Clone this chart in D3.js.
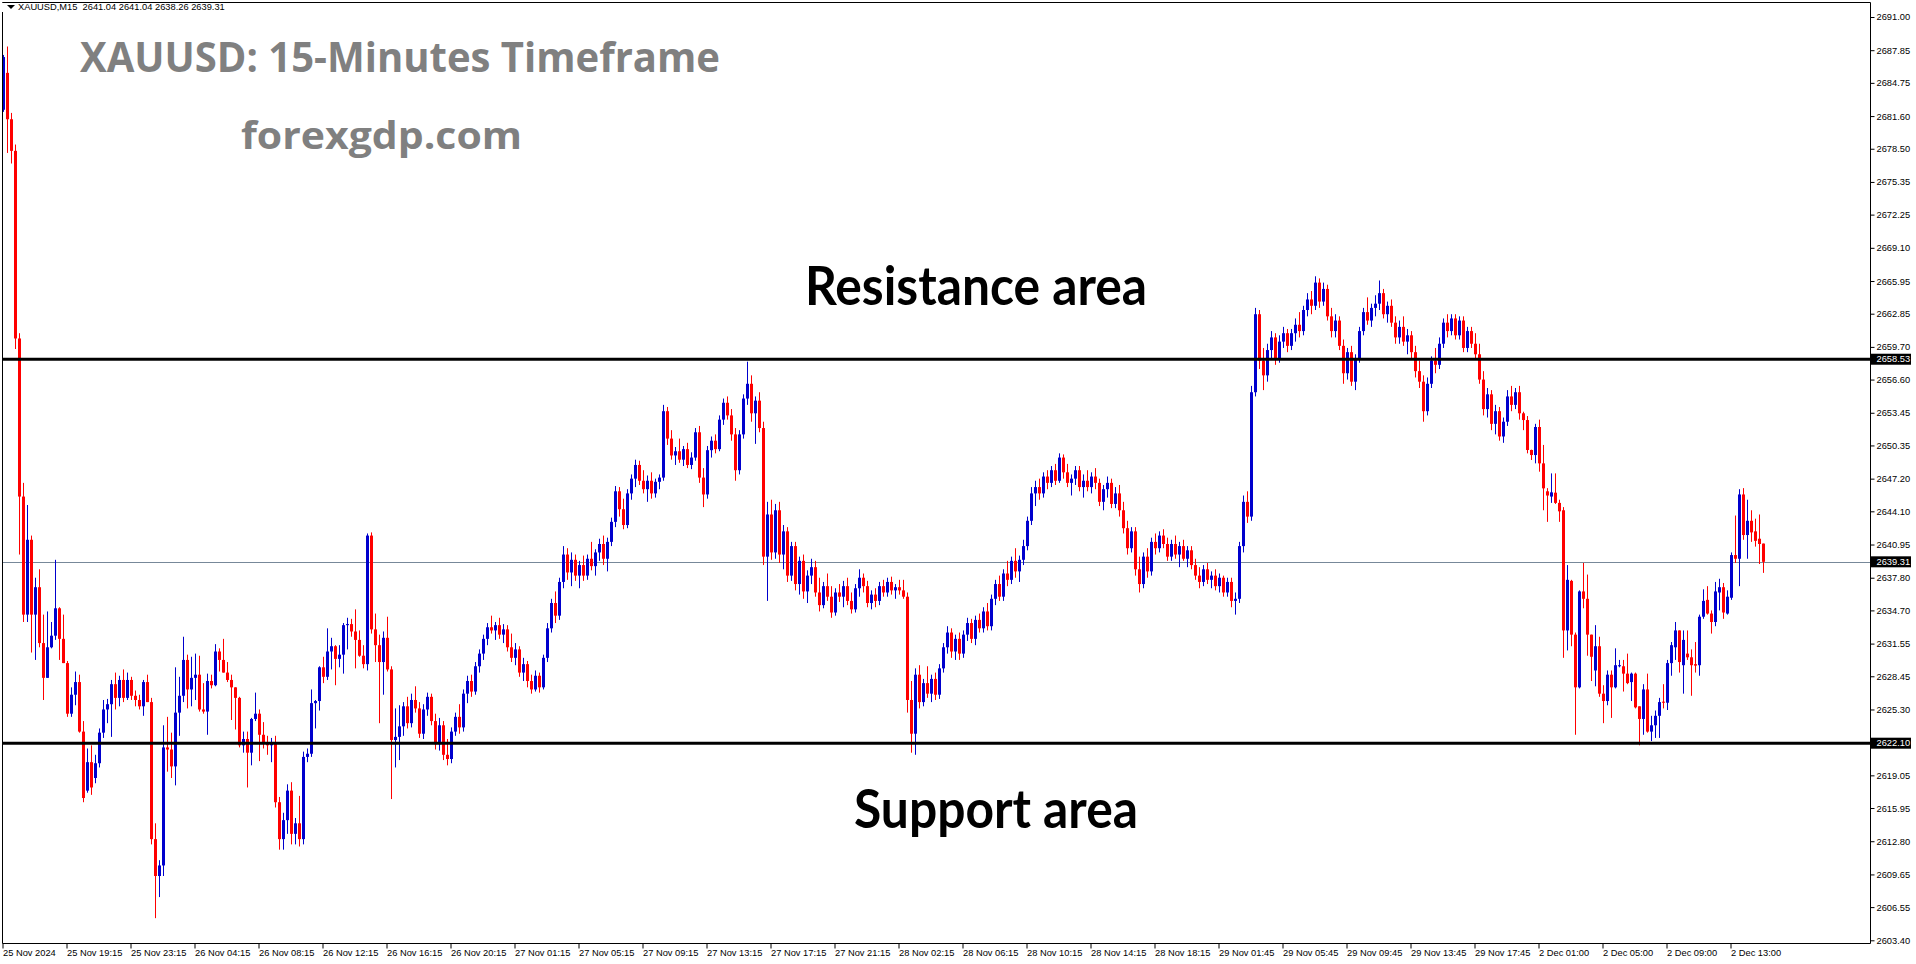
<!DOCTYPE html>
<html><head><meta charset="utf-8">
<script src="https://cdn.jsdelivr.net/npm/d3@7"></script>
<style>
body{margin:0;background:#fff;overflow:hidden}
svg{display:block}
.ax text{font-family:"Liberation Sans",Arial,sans-serif;font-size:9.3px;fill:#000}
</style>
</head><body>
<svg id="c" width="1916" height="964"></svg>
<script>
const symbol = "XAUUSD", timeframe = "M15";
const titleText = "XAUUSD: 15-Minutes Timeframe";
const siteText = "forexgdp.com";
const resistanceText = "Resistance area", supportText = "Support area";
const resistance = 2658.53, support = 2622.10, lastPrice = 2639.31;

const timeLabels = ["25 Nov 2024","25 Nov 19:15","25 Nov 23:15","26 Nov 04:15","26 Nov 08:15","26 Nov 12:15","26 Nov 16:15","26 Nov 20:15","27 Nov 01:15","27 Nov 05:15","27 Nov 09:15","27 Nov 13:15","27 Nov 17:15","27 Nov 21:15","28 Nov 02:15","28 Nov 06:15","28 Nov 10:15","28 Nov 14:15","28 Nov 18:15","29 Nov 01:45","29 Nov 05:45","29 Nov 09:45","29 Nov 13:45","29 Nov 17:45","2 Dec 01:00","2 Dec 05:00","2 Dec 09:00","2 Dec 13:00"];
const timeLabelBars = [0,16,32,48,64,80,96,112,128,144,160,176,192,208,224,240,256,272,288,304,320,336,352,368,384,400,416,432];
const priceTicks = [2691.00,2687.85,2684.75,2681.60,2678.50,2675.35,2672.25,2669.10,2665.95,2662.85,2659.70,2656.60,2653.45,2650.35,2647.20,2644.10,2640.95,2637.80,2634.70,2631.55,2628.45,2625.30,2619.05,2615.95,2612.80,2609.65,2606.55,2603.40];

const opens = [
2682.2,2685.7,2681.3,2678.3,2660.5,2645.5,2634.3,2641.4,2634.3,2636.9,
2631.6,2628.3,2631.2,2632.3,2634.9,2632.0,2629.7,2624.9,2626.7,2627.9,
2623.2,2617.6,2620.3,2618.8,2620.2,2623.1,2625.3,2625.8,2627.7,2626.4,
2628.1,2626.4,2628.1,2626.6,2626.2,2625.6,2627.9,2626.0,2613.0,2609.5,
2610.5,2621.7,2621.5,2619.9,2625.0,2626.6,2630.0,2627.2,2628.3,2628.6,
2625.3,2625.1,2628.0,2627.6,2630.8,2630.0,2628.8,2628.1,2627.4,2626.4,
2621.9,2622.5,2621.2,2624.4,2624.9,2622.9,2622.2,2621.9,2622.2,2616.5,
2613.0,2614.8,2617.6,2613.5,2614.5,2613.0,2620.8,2621.1,2625.9,2626.1,
2629.3,2628.4,2630.8,2631.3,2630.1,2630.5,2633.3,2633.4,2632.7,2631.9,
2630.4,2629.6,2641.8,2632.9,2631.4,2629.8,2632.1,2629.1,2622.4,2622.7,
2623.7,2625.6,2624.0,2626.2,2625.4,2623.0,2625.3,2626.5,2624.2,2622.0,
2623.8,2621.0,2620.6,2623.2,2624.6,2623.6,2626.8,2628.0,2627.0,2629.4,
2630.6,2632.0,2633.1,2632.8,2633.3,2632.4,2632.9,2631.2,2630.2,2631.0,
2628.8,2629.6,2628.0,2627.2,2628.5,2627.4,2630.2,2633.0,2635.4,2634.2,
2637.4,2640.0,2638.3,2639.5,2638.0,2639.0,2638.0,2639.6,2638.9,2640.2,
2641.0,2639.6,2641.2,2643.1,2646.0,2644.3,2642.8,2645.8,2647.2,2648.5,
2647.0,2646.2,2647.0,2645.8,2646.9,2647.3,2653.6,2651.0,2649.4,2649.8,
2649.0,2650.0,2648.5,2649.2,2651.6,2647.3,2645.7,2649.9,2650.8,2650.0,
2652.8,2654.4,2653.2,2651.4,2648.0,2651.4,2654.8,2656.2,2653.4,2654.6,
2652.0,2639.8,2643.8,2640.2,2644.2,2640.0,2642.2,2638.0,2640.8,2637.2,
2639.4,2636.5,2638.0,2638.8,2636.4,2635.2,2637.0,2636.0,2634.5,2636.4,
2636.0,2637.0,2635.6,2634.8,2636.8,2637.8,2637.0,2635.4,2636.2,2635.6,
2637.0,2636.4,2637.4,2636.6,2636.9,2636.6,2636.0,2626.2,2623.0,2628.6,
2626.0,2627.8,2626.8,2628.2,2626.7,2629.2,2631.2,2632.6,2630.8,2632.0,
2630.6,2632.4,2633.5,2632.0,2633.8,2633.0,2634.6,2633.2,2635.8,2637.2,
2636.0,2638.2,2637.6,2639.4,2638.4,2639.5,2640.8,2643.2,2645.8,2646.4,
2645.8,2647.4,2646.8,2648.0,2647.0,2649.2,2647.8,2646.8,2647.2,2648.0,
2646.4,2647.0,2646.4,2647.4,2646.8,2645.0,2646.2,2646.8,2644.8,2645.8,
2644.2,2642.5,2640.6,2642.2,2638.6,2637.2,2639.8,2638.4,2641.2,2640.6,
2641.8,2641.0,2639.8,2641.0,2640.0,2640.8,2639.6,2640.4,2639.0,2638.0,
2637.4,2638.6,2637.6,2638.0,2637.0,2637.8,2636.4,2637.4,2635.6,2635.8,
2640.8,2645.0,2643.6,2655.4,2662.8,2658.4,2657.0,2659.4,2660.6,2658.6,
2660.2,2661.0,2659.8,2661.0,2661.8,2661.2,2663.2,2664.2,2663.6,2665.8,
2664.0,2665.2,2662.6,2661.2,2662.2,2659.8,2657.2,2659.2,2656.4,2658.6,
2661.2,2663.0,2662.2,2663.4,2663.8,2664.8,2662.8,2663.6,2662.0,2660.6,
2661.6,2660.2,2660.8,2659.2,2657.4,2656.4,2653.6,2656.2,2658.4,2658.0,
2660.0,2662.0,2661.2,2662.4,2660.8,2662.2,2659.6,2661.2,2660.0,2659.0,
2656.6,2653.8,2655.2,2652.4,2653.6,2651.2,2652.6,2655.0,2654.2,2655.4,
2653.4,2652.76,2649.92,2649.44,2652.1,2648.65,2646.0,2645.5,2645.87,2644.9,
2644.2,2632.8,2637.5,2632.4,2627.4,2636.5,2635.8,2632.4,2629.0,2631.3,
2626.8,2626.1,2628.6,2627.4,2629.4,2629.4,2628.7,2627.9,2628.7,2625.6,
2624.4,2627.2,2623.2,2623.8,2624.7,2626.04,2625.94,2629.7,2631.2,2632.8,
2629.5,2630.6,2630.25,2629.6,2629.5,2634.1,2635.7,2634.4,2633.6,2636.4,
2636.9,2634.4,2635.9,2639.95,2639.6,2645.7,2641.85,2643.2,2642.2,2641.5,
2641.04];
const highs = [
2687.4,2688.2,2681.9,2678.9,2661.0,2646.8,2644.7,2641.8,2637.8,2638.6,
2634.3,2634.6,2633.6,2639.5,2635.0,2634.3,2629.9,2627.4,2628.9,2628.6,
2624.2,2621.6,2621.9,2621.0,2623.5,2626.2,2626.3,2628.1,2628.8,2628.5,
2629.1,2628.8,2628.4,2627.1,2626.7,2628.1,2628.6,2626.4,2614.5,2611.0,
2623.8,2624.6,2623.1,2629.3,2628.4,2632.2,2630.5,2630.3,2630.6,2630.4,
2627.8,2628.7,2628.6,2631.5,2631.1,2632.0,2629.8,2628.6,2627.4,2626.5,
2623.2,2623.2,2624.5,2626.9,2625.3,2624.1,2622.8,2622.6,2622.8,2617.0,
2615.5,2618.2,2618.4,2615.0,2617.1,2621.3,2621.6,2627.2,2626.2,2629.4,
2630.3,2633.0,2632.1,2631.4,2631.4,2633.5,2634.0,2633.9,2634.8,2632.8,
2631.4,2642.0,2642.1,2634.4,2632.4,2632.7,2634.1,2629.4,2625.4,2625.7,
2626.0,2626.5,2626.8,2627.5,2626.0,2625.8,2626.9,2626.8,2624.9,2624.5,
2624.2,2622.5,2623.6,2625.0,2625.8,2627.2,2628.5,2628.6,2629.8,2631.0,
2632.4,2633.5,2634.2,2633.6,2634.0,2633.4,2633.3,2632.5,2631.6,2631.3,
2630.2,2629.9,2628.6,2629.0,2628.8,2630.5,2633.5,2635.8,2636.5,2637.8,
2640.8,2640.6,2640.2,2640.0,2639.4,2639.9,2640.0,2641.2,2640.5,2641.5,
2641.8,2641.6,2643.5,2646.5,2646.4,2645.3,2646.2,2647.6,2649.0,2648.9,
2648.0,2647.5,2647.8,2647.2,2647.6,2654.2,2654.0,2651.8,2650.2,2651.0,
2650.3,2650.6,2649.7,2652.0,2652.2,2648.2,2650.3,2651.2,2651.4,2653.2,
2654.8,2655.0,2653.8,2652.0,2651.8,2655.2,2658.3,2657.0,2655.0,2655.4,
2652.6,2645.0,2645.2,2644.8,2645.0,2642.8,2642.6,2641.2,2641.2,2639.8,
2640.0,2638.5,2639.6,2639.4,2637.8,2637.4,2638.2,2637.0,2636.8,2637.2,
2637.5,2637.8,2636.4,2637.2,2638.6,2638.2,2637.5,2636.6,2636.8,2637.4,
2637.6,2637.8,2637.9,2637.2,2637.6,2637.6,2636.4,2628.0,2629.2,2629.5,
2628.2,2629.4,2628.6,2628.8,2629.6,2631.6,2633.2,2633.0,2632.4,2632.6,
2632.8,2634.0,2633.9,2634.2,2634.4,2635.0,2635.4,2636.2,2637.6,2638.0,
2638.6,2639.4,2639.8,2640.6,2639.9,2641.4,2643.6,2646.4,2647.0,2647.2,
2647.8,2648.0,2648.4,2648.6,2649.6,2649.5,2648.6,2647.6,2648.4,2648.4,
2647.6,2648.0,2647.8,2648.2,2647.2,2646.6,2647.4,2647.2,2646.4,2646.6,
2645.0,2643.2,2642.6,2642.6,2639.8,2640.2,2640.6,2641.6,2642.0,2642.2,
2642.4,2641.6,2641.4,2641.8,2641.2,2641.4,2640.8,2640.8,2639.6,2638.8,
2639.0,2639.2,2638.4,2638.6,2638.2,2638.0,2637.8,2637.8,2636.4,2641.2,
2645.6,2646.0,2656.0,2663.4,2663.2,2659.6,2660.0,2661.2,2661.0,2660.8,
2661.6,2661.4,2661.4,2662.4,2663.0,2663.6,2664.8,2665.0,2666.4,2666.2,
2665.8,2665.6,2663.4,2662.8,2662.6,2660.4,2659.6,2659.8,2659.0,2661.6,
2663.4,2664.4,2663.8,2664.6,2666.0,2665.2,2664.0,2664.2,2662.6,2662.2,
2662.6,2661.4,2661.2,2659.8,2658.4,2657.0,2656.8,2658.8,2659.6,2660.6,
2662.4,2662.8,2662.8,2662.8,2662.6,2662.6,2661.6,2661.6,2661.0,2660.0,
2657.4,2655.8,2655.6,2654.2,2654.0,2653.0,2655.6,2656.0,2655.8,2656.0,
2653.55,2653.14,2649.95,2652.4,2652.8,2650.4,2646.3,2647.7,2647.7,2645.2,
2644.5,2639.0,2637.6,2632.6,2636.6,2639.2,2638.1,2632.4,2633.3,2632.2,
2627.6,2629.0,2629.0,2631.1,2630.0,2630.0,2630.6,2628.8,2628.8,2625.6,
2627.7,2628.7,2624.7,2625.2,2626.4,2627.7,2630.0,2631.7,2633.6,2632.8,
2632.8,2632.8,2631.0,2631.7,2634.3,2636.7,2637.0,2634.7,2637.4,2637.7,
2637.3,2636.6,2640.2,2643.7,2646.2,2646.3,2645.2,2644.2,2643.4,2643.8,
2641.04];
const lows = [
2682.0,2678.1,2677.1,2659.5,2640.0,2633.6,2633.6,2630.7,2630.0,2631.2,
2626.2,2628.3,2631.1,2631.9,2630.0,2629.7,2624.6,2624.6,2625.7,2623.1,
2616.5,2617.4,2617.2,2618.3,2619.8,2622.6,2624.0,2622.7,2625.3,2625.6,
2626.0,2626.2,2626.2,2625.6,2625.3,2624.7,2626.0,2612.5,2605.5,2607.5,
2609.5,2619.4,2618.8,2618.1,2622.8,2626.0,2625.4,2625.6,2626.2,2625.1,
2624.9,2622.9,2627.3,2627.5,2628.9,2628.8,2627.9,2624.3,2623.4,2621.7,
2621.2,2617.9,2620.0,2624.2,2620.4,2621.6,2621.0,2620.3,2616.0,2612.0,
2612.0,2613.5,2612.5,2612.5,2612.3,2612.5,2620.3,2620.8,2623.5,2625.2,
2627.8,2628.1,2629.1,2627.6,2629.3,2628.7,2631.0,2632.2,2629.2,2630.3,
2629.2,2629.0,2632.5,2629.8,2624.0,2626.7,2628.9,2616.8,2619.8,2620.5,
2622.8,2623.5,2623.6,2625.0,2622.6,2622.5,2624.7,2623.8,2621.5,2621.4,
2620.5,2620.0,2620.2,2622.8,2623.0,2623.2,2625.9,2626.5,2626.7,2628.8,
2630.0,2631.4,2632.5,2631.9,2632.0,2631.6,2630.8,2629.8,2629.5,2628.4,
2628.0,2627.4,2626.8,2627.0,2626.9,2627.2,2629.8,2632.6,2633.5,2633.8,
2636.8,2637.6,2637.0,2637.5,2636.8,2637.5,2637.6,2638.5,2638.0,2639.4,
2639.0,2638.4,2640.8,2642.6,2643.6,2642.4,2642.5,2645.2,2646.4,2646.6,
2645.8,2645.0,2645.3,2645.4,2646.2,2647.0,2650.4,2649.0,2648.5,2648.7,
2648.4,2648.2,2648.1,2648.9,2646.8,2644.5,2645.3,2649.2,2649.6,2649.8,
2652.3,2652.8,2650.8,2647.0,2647.6,2651.0,2654.2,2652.6,2650.5,2651.6,
2639.0,2635.6,2639.5,2639.6,2639.2,2638.6,2637.4,2637.5,2636.6,2636.2,
2635.8,2635.4,2637.2,2636.0,2634.6,2634.9,2635.6,2634.0,2634.2,2635.5,
2635.0,2635.2,2634.4,2634.5,2636.0,2636.4,2635.0,2634.8,2635.0,2635.2,
2636.0,2636.0,2636.2,2635.8,2636.2,2635.8,2625.0,2621.2,2621.0,2625.4,
2625.6,2626.4,2626.0,2626.2,2626.3,2628.8,2630.6,2630.2,2630.0,2630.0,
2630.2,2631.8,2631.6,2631.4,2632.6,2632.6,2632.8,2632.8,2635.2,2635.6,
2635.6,2637.0,2637.2,2637.8,2637.4,2639.0,2640.4,2642.8,2644.6,2645.2,
2645.4,2646.2,2646.4,2646.6,2646.8,2647.2,2646.4,2645.6,2646.6,2646.0,
2645.4,2646.0,2645.8,2646.2,2644.6,2644.2,2645.4,2644.4,2644.4,2643.6,
2642.0,2640.0,2640.2,2638.0,2636.4,2636.8,2637.8,2638.0,2640.0,2640.2,
2640.6,2639.4,2639.4,2639.6,2638.8,2639.4,2638.8,2638.6,2637.6,2636.8,
2637.0,2637.2,2636.8,2636.6,2636.4,2636.0,2636.0,2635.0,2634.3,2635.4,
2640.2,2643.0,2643.2,2655.0,2657.6,2655.6,2656.4,2658.6,2658.0,2658.2,
2659.6,2659.2,2659.4,2660.2,2660.6,2660.8,2662.6,2662.8,2663.2,2663.4,
2663.6,2662.2,2660.6,2660.6,2659.4,2656.2,2656.6,2656.0,2655.6,2658.2,
2660.8,2661.8,2661.6,2662.6,2663.2,2662.4,2662.0,2661.6,2660.0,2660.0,
2659.8,2659.0,2658.6,2656.8,2655.8,2652.6,2653.2,2655.8,2657.2,2657.6,
2659.6,2660.6,2660.8,2660.4,2660.4,2659.2,2659.2,2659.6,2658.6,2656.2,
2653.2,2653.0,2651.8,2651.4,2650.8,2650.6,2652.2,2653.6,2653.8,2652.8,
2651.8,2649.6,2648.97,2648.65,2647.86,2644.2,2643.1,2644.9,2644.8,2643.1,
2630.2,2630.9,2631.3,2622.9,2627.3,2634.9,2630.4,2628.0,2627.5,2626.5,
2624.0,2625.7,2624.5,2627.3,2629.3,2627.0,2627.7,2626.1,2625.4,2621.9,
2622.9,2623.1,2622.3,2622.6,2622.6,2625.4,2625.25,2628.5,2630.0,2628.8,
2626.8,2630.0,2626.6,2628.8,2628.5,2633.9,2634.3,2632.5,2633.2,2634.7,
2633.9,2634.3,2635.7,2639.2,2637.0,2641.4,2639.6,2641.2,2640.75,2639.1,
2638.26];
const closes = [
2687.2,2681.3,2678.3,2660.5,2645.5,2634.3,2641.4,2634.3,2636.9,2631.6,
2628.3,2631.2,2632.3,2634.9,2632.0,2629.7,2624.9,2626.7,2627.9,2623.2,
2616.9,2620.3,2617.9,2620.2,2623.1,2625.3,2625.8,2627.7,2626.4,2628.1,
2626.4,2628.1,2626.6,2626.2,2625.6,2627.9,2626.0,2613.0,2609.5,2610.5,
2621.7,2621.5,2619.9,2625.0,2626.6,2630.0,2627.2,2628.3,2628.6,2625.3,
2625.1,2628.0,2627.6,2630.8,2630.0,2628.8,2628.1,2627.4,2626.4,2621.9,
2622.5,2621.2,2624.4,2624.9,2622.9,2622.2,2621.9,2622.2,2616.5,2613.0,
2614.8,2617.6,2613.5,2614.5,2613.0,2620.8,2621.1,2625.9,2626.1,2629.3,
2628.4,2630.8,2631.3,2630.1,2630.5,2633.3,2633.4,2632.7,2631.9,2630.4,
2629.6,2641.8,2632.9,2631.4,2629.8,2632.1,2629.1,2622.4,2622.7,2623.7,
2625.6,2624.0,2626.2,2625.4,2623.0,2625.3,2626.5,2624.2,2622.0,2623.8,
2621.0,2620.6,2623.2,2624.6,2623.6,2626.8,2628.0,2627.0,2629.4,2630.6,
2632.0,2633.1,2632.8,2633.3,2632.4,2632.9,2631.2,2630.2,2631.0,2628.8,
2629.6,2628.0,2627.2,2628.5,2627.4,2630.2,2633.0,2635.4,2634.2,2637.4,
2640.0,2638.3,2639.5,2638.0,2639.0,2638.0,2639.6,2638.9,2640.2,2641.0,
2639.6,2641.2,2643.1,2646.0,2644.3,2642.8,2645.8,2647.2,2648.5,2647.0,
2646.2,2647.0,2645.8,2646.9,2647.3,2653.6,2651.0,2649.4,2649.8,2649.0,
2650.0,2648.5,2649.2,2651.6,2647.3,2645.7,2649.9,2650.8,2650.0,2652.8,
2654.4,2653.2,2651.4,2648.0,2651.4,2654.8,2656.2,2653.4,2654.6,2652.0,
2639.8,2643.8,2640.2,2644.2,2640.0,2642.2,2638.0,2640.8,2637.2,2639.4,
2636.5,2638.0,2638.8,2636.4,2635.2,2637.0,2636.0,2634.5,2636.4,2636.0,
2637.0,2635.6,2634.8,2636.8,2637.8,2637.0,2635.4,2636.2,2635.6,2637.0,
2636.4,2637.4,2636.6,2636.9,2636.6,2636.0,2626.2,2623.0,2628.6,2626.0,
2627.8,2626.8,2628.2,2626.7,2629.2,2631.2,2632.6,2630.8,2632.0,2630.6,
2632.4,2633.5,2632.0,2633.8,2633.0,2634.6,2633.2,2635.8,2637.2,2636.0,
2638.2,2637.6,2639.4,2638.4,2639.5,2640.8,2643.2,2645.8,2646.4,2645.8,
2647.4,2646.8,2648.0,2647.0,2649.2,2647.8,2646.8,2647.2,2648.0,2646.4,
2647.0,2646.4,2647.4,2646.8,2645.0,2646.2,2646.8,2644.8,2645.8,2644.2,
2642.5,2640.6,2642.2,2638.6,2637.2,2639.8,2638.4,2641.2,2640.6,2641.8,
2641.0,2639.8,2641.0,2640.0,2640.8,2639.6,2640.4,2639.0,2638.0,2637.4,
2638.6,2637.6,2638.0,2637.0,2637.8,2636.4,2637.4,2635.6,2635.8,2640.8,
2645.0,2643.6,2655.4,2662.8,2658.4,2657.0,2659.4,2660.6,2658.6,2660.2,
2661.0,2659.8,2661.0,2661.8,2661.2,2663.2,2664.2,2663.6,2665.8,2664.0,
2665.2,2662.6,2661.2,2662.2,2659.8,2657.2,2659.2,2656.4,2658.6,2661.2,
2663.0,2662.2,2663.4,2663.8,2664.8,2662.8,2663.6,2662.0,2660.6,2661.6,
2660.2,2660.8,2659.2,2657.4,2656.4,2653.6,2656.2,2658.4,2658.0,2660.0,
2662.0,2661.2,2662.4,2660.8,2662.2,2659.6,2661.2,2660.0,2659.0,2656.6,
2653.8,2655.2,2652.4,2653.6,2651.2,2652.6,2655.0,2654.2,2655.4,2653.4,
2652.76,2649.92,2649.44,2652.1,2648.65,2646.28,2645.6,2645.9,2644.9,2644.1,
2632.8,2637.6,2632.4,2627.4,2636.5,2635.8,2632.4,2630.3,2631.3,2626.8,
2626.1,2628.6,2627.4,2629.5,2629.5,2628.7,2627.8,2628.7,2625.5,2624.4,
2627.2,2623.2,2623.8,2624.7,2626.0,2625.94,2629.7,2631.4,2632.8,2629.8,
2631.9,2630.25,2629.5,2629.46,2634.1,2635.6,2634.4,2633.6,2636.5,2636.9,
2634.5,2636.0,2639.95,2639.6,2645.7,2641.85,2643.2,2642.1,2641.3,2641.0,
2639.31];

const BULL = "#0000CD", BEAR = "#FF0000";
const svg = d3.select("#c");
const W = 1916, H = 964;
const plotLeft = 2.5, plotTop = 2.5, axisX = 1870.5, axisY = 943.5;

const x = d3.scaleLinear().domain([0, 440]).range([3.5, 1763.5]);
const y = d3.scaleLinear().domain([2603.40, 2691.00]).range([940.3, 17]);

svg.append("rect").attr("width", W).attr("height", H).attr("fill", "#fff");

// bid line
svg.append("line").attr("x1", plotLeft).attr("x2", axisX)
  .attr("y1", Math.round(y(lastPrice)) + 0.5).attr("y2", Math.round(y(lastPrice)) + 0.5)
  .attr("stroke", "#778899").attr("stroke-width", 1);

// candles
const idx = d3.range(closes.length);
const cg = svg.append("g");
const bars = cg.selectAll("g").data(idx).join("g")
  .attr("fill", i => closes[i] >= opens[i] ? BULL : BEAR)
  .attr("stroke", i => closes[i] >= opens[i] ? BULL : BEAR);
bars.append("line")
  .attr("x1", i => x(i)).attr("x2", i => x(i))
  .attr("y1", i => y(Math.max(highs[i], opens[i], closes[i])))
  .attr("y2", i => y(Math.min(lows[i], opens[i], closes[i])))
  .attr("stroke-width", 1);
bars.append("rect")
  .attr("stroke", "none")
  .attr("x", i => x(i) - 1.5).attr("width", 3)
  .attr("y", i => y(Math.max(opens[i], closes[i])))
  .attr("height", i => Math.max(1, Math.abs(y(opens[i]) - y(closes[i]))));

// support / resistance
[resistance, support].forEach(p => {
  svg.append("line").attr("x1", plotLeft).attr("x2", axisX)
    .attr("y1", y(p)).attr("y2", y(p)).attr("stroke", "#000").attr("stroke-width", 3);
});

// texts
svg.append("text").text(titleText).attr("x", 80).attr("y", 72)
  .attr("font-family", "'Open Sans', sans-serif").attr("font-weight", 700)
  .attr("font-size", 42).attr("fill", "#808080")
  .attr("textLength", 640).attr("lengthAdjust", "spacingAndGlyphs");
svg.append("text").text(siteText).attr("x", 241).attr("y", 149)
  .attr("font-family", "'Open Sans', sans-serif").attr("font-weight", 700)
  .attr("font-size", 37).attr("fill", "#808080")
  .attr("textLength", 281).attr("lengthAdjust", "spacingAndGlyphs");
svg.append("text").text(resistanceText).attr("x", 805).attr("y", 305)
  .attr("font-family", "Lato, 'Open Sans', sans-serif").attr("font-weight", 700)
  .attr("font-size", 53).attr("fill", "#000")
  .attr("textLength", 342).attr("lengthAdjust", "spacingAndGlyphs");
svg.append("text").text(supportText).attr("x", 854).attr("y", 828)
  .attr("font-family", "Lato, 'Open Sans', sans-serif").attr("font-weight", 700)
  .attr("font-size", 53).attr("fill", "#000")
  .attr("textLength", 284).attr("lengthAdjust", "spacingAndGlyphs");

// frame
svg.append("line").attr("x1", plotLeft).attr("x2", plotLeft).attr("y1", plotTop).attr("y2", axisY).attr("stroke", "#000");
svg.append("line").attr("x1", plotLeft).attr("x2", axisX).attr("y1", plotTop).attr("y2", plotTop).attr("stroke", "#000");

// header
const last = closes.length - 1;
const hdr = svg.append("g");
hdr.append("rect").attr("x", 0).attr("y", 3).attr("width", 228).attr("height", 9).attr("fill", "#fff");
hdr.append("path").attr("d", "M7,5 L15,5 L11,9 Z").attr("fill", "#000");
hdr.append("text").attr("class", "hdr")
  .attr("x", 18).attr("y", 10.3)
  .attr("font-family", "'Liberation Sans', Arial, sans-serif").attr("font-size", 9.3).attr("fill", "#000")
  .attr("xml:space", "preserve")
  .text(`${symbol},${timeframe}  ${opens[last].toFixed(2)} ${highs[last].toFixed(2)} ${lows[last].toFixed(2)} ${closes[last].toFixed(2)}`);

// price axis
const ya = svg.append("g").attr("class", "ax").attr("transform", `translate(${axisX},0)`)
  .call(d3.axisRight(y).tickValues(priceTicks).tickSize(4).tickPadding(2).tickFormat(d => d.toFixed(2)));
ya.select(".domain").remove();
ya.selectAll(".tick line").attr("stroke", "#000");
svg.append("line").attr("x1", axisX).attr("x2", axisX).attr("y1", plotTop).attr("y2", axisY).attr("stroke", "#000");

// time axis
const xa = svg.append("g").attr("class", "ax").attr("transform", `translate(0,${axisY})`)
  .call(d3.axisBottom(x).tickValues(timeLabelBars).tickSize(5).tickFormat((d, i) => timeLabels[i]));
xa.select(".domain").remove();
xa.selectAll(".tick line").attr("stroke", "#000").attr("transform", "translate(-1,0)");
xa.selectAll(".tick text").attr("text-anchor", "start").attr("x", -1).attr("y", 5.5);
svg.append("line").attr("x1", plotLeft).attr("x2", axisX).attr("y1", axisY).attr("y2", axisY).attr("stroke", "#000");

// highlighted price labels
[resistance, lastPrice, support].forEach(p => {
  const yy = y(p);
  svg.append("rect").attr("x", axisX + 0.5).attr("y", yy - 5.5).attr("width", 40).attr("height", 11).attr("fill", "#000");
  svg.append("text").attr("x", axisX + 6).attr("y", yy).attr("dy", "0.34em")
    .attr("font-family", "'Liberation Sans', Arial, sans-serif").attr("font-size", 9.3).attr("fill", "#fff")
    .text(p.toFixed(2));
});
</script>
</body></html>
